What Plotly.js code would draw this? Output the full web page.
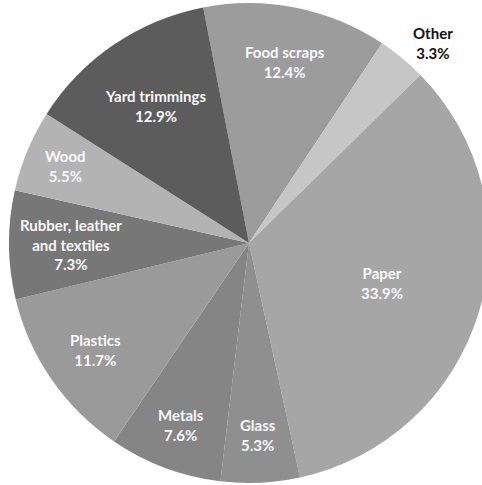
<!DOCTYPE html>
<html>
<head>
<meta charset="utf-8">
<script src="https://cdn.plot.ly/plotly-3.0.1.min.js"></script>
<style>
html, body { margin: 0; padding: 0; overflow: hidden; background: #fff; }
#chart { width: 498px; height: 485px; }
</style>
</head>
<body>
<div id="chart"></div>
<script>
// Data (clockwise from the top, starting with Food scraps)
const categories = ["Food scraps", "Other", "Paper", "Glass", "Metals", "Plastics", "Rubber, leather and textiles", "Wood", "Yard trimmings"];
const labelText = ["Food scraps", "Other", "Paper", "Glass", "Metals", "Plastics", "Rubber, leather<br>and textiles", "Wood", "Yard trimmings"];
const values = [12.4, 3.3, 33.9, 5.3, 7.6, 11.7, 7.3, 5.5, 12.9];
const valueLabels = ["12.4%", "3.3%", "33.9%", "5.3%", "7.6%", "11.7%", "7.3%", "5.5%", "12.9%"];

// Styles
const colors = ["#9c9c9c", "#c6c6c6", "#a6a6a6", "#8f8f8f", "#858585", "#9a9a9a", "#777777", "#b3b3b3", "#5c5c5c"];
const labelRadius = [0.77, 1.13, 0.58, 0.80, 0.81, 0.78, 0.74, 0.83, 0.69];
const labelAngleShift = [0, 3, 0, 0, 0, 0, 0, 0, 0];
const labelColor = ["#f8f8f8", "#111111", "#f8f8f8", "#f8f8f8", "#f8f8f8", "#f8f8f8", "#f8f8f8", "#f8f8f8", "#f8f8f8"];
const rotation = -11;

const trace = {
  type: "pie",
  labels: categories,
  values: values,
  sort: false,
  direction: "clockwise",
  rotation: rotation,
  textinfo: "none",
  hoverinfo: "label+value",
  marker: { colors: colors, line: { width: 0 } },
  showlegend: false
};

// Label positions from slice mid-angles
const total = values.reduce((a, b) => a + b, 0);
let cum = 0;
const annotations = values.map((v, i) => {
  const mid = rotation + (cum + v / 2) / total * 360 + labelAngleShift[i];
  cum += v;
  const a = mid * Math.PI / 180;
  const r = labelRadius[i] * 0.5;
  return {
    xref: "paper", yref: "paper",
    x: 0.5 + r * Math.sin(a),
    y: 0.5 + r * Math.cos(a),
    text: labelText[i] + "<br>" + valueLabels[i],
    showarrow: false,
    xanchor: "center", yanchor: "middle",
    align: "center",
    font: { family: "Lato, 'Open Sans', sans-serif", size: 15, color: labelColor[i], weight: "bold" }
  };
});

const layout = {
  width: 498,
  height: 485,
  margin: { l: 9, r: 9, t: 3, b: 2 },
  paper_bgcolor: "#ffffff",
  plot_bgcolor: "#ffffff",
  annotations: annotations
};

Plotly.newPlot("chart", [trace], layout, { displayModeBar: false, staticPlot: true });
</script>
</body>
</html>
